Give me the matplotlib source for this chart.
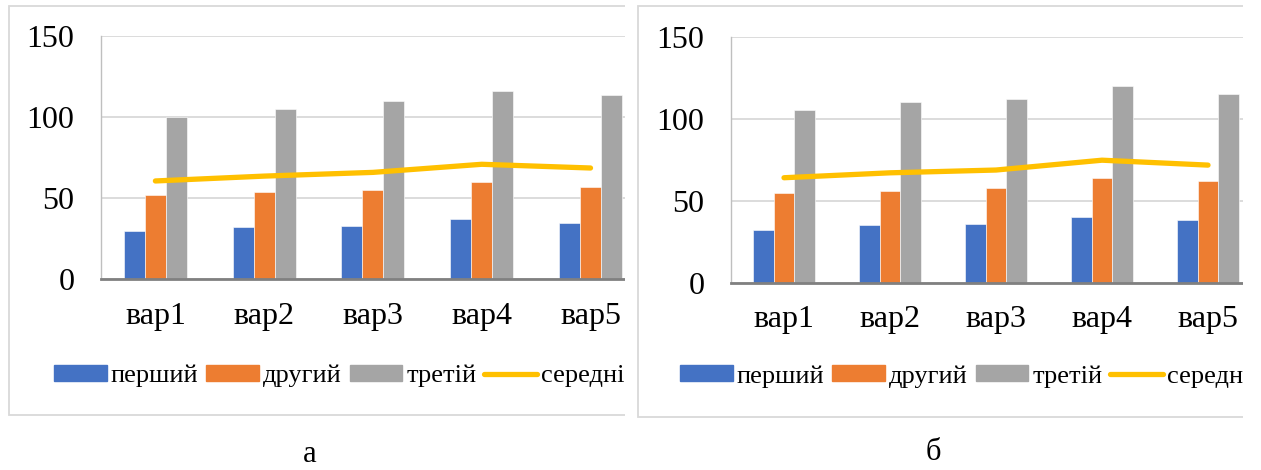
import matplotlib
matplotlib.use("Agg")
from matplotlib import pyplot as plt
from matplotlib.patches import Rectangle
from matplotlib.lines import Line2D
import numpy as np

plt.rcParams['font.family'] = ['Liberation Serif', 'DejaVu Serif']

categories = ['вар1', 'вар2', 'вар3', 'вар4', 'вар5']
series_names = ['перший', 'другий', 'третій', 'середній']
yticks = [0, 50, 100, 150]
panel_labels = ['а', 'б']

# panel а
first_a = [30, 32, 33, 37, 35]
second_a = [52, 54, 55, 60, 57]
third_a = [100, 105, 110, 116, 114]
mean_a = [60.7, 63.7, 66.0, 71.0, 68.7]

# panel б
first_b = [32, 35, 36, 40, 38]
second_b = [55, 56, 58, 64, 62]
third_b = [105, 110, 112, 120, 115]
mean_b = [64.0, 67.0, 68.7, 74.7, 71.7]

colors = ['#4472C4', '#ED7D31', '#A5A5A5', '#FFC000']

W, H = 1261, 470
fig = plt.figure(figsize=(W / 100, H / 100), dpi=100)


def fx(x):
    return x / W


def fy(y):
    return 1 - y / H


def box(x0, y0, x1, y1):
    # pixel coords (y downward) -> figure rect
    return [fx(x0), fy(y1), (x1 - x0) / W, (y1 - y0) / H]


def frame(x0, y0, x1, y1, z):
    r = Rectangle((fx(x0), fy(y1)), (x1 - x0) / W, (y1 - y0) / H,
                  transform=fig.transFigure, facecolor='white',
                  edgecolor='#d9d9d9', lw=1.3, zorder=z)
    fig.add_artist(r)


def cover(x0, z):
    r = Rectangle((fx(x0), 0), 1, 1, transform=fig.transFigure,
                  facecolor='white', edgecolor='none', zorder=z)
    fig.add_artist(r)


def draw_panel(ax, first, second, third, mean, xmax, leg_x, leg_y):
    x = np.arange(len(categories))
    w = 0.193
    ax.bar(x - w, first, w, color=colors[0], edgecolor='white', lw=0.4, zorder=2)
    ax.bar(x, second, w, color=colors[1], edgecolor='white', lw=0.4, zorder=2)
    ax.bar(x + w, third, w, color=colors[2], edgecolor='white', lw=0.4, zorder=2)
    ax.plot(x, mean, color=colors[3], lw=3.8, solid_capstyle='round', zorder=3)
    ax.set_xlim(-0.5, xmax)
    ax.set_ylim(0, 150)
    ax.set_yticks(yticks)
    ax.set_xticks(x)
    ax.set_xticklabels(categories)
    ax.yaxis.grid(True, color='#d9d9d9', lw=1.3)
    ax.set_axisbelow(True)
    for s in ['top', 'right']:
        ax.spines[s].set_visible(False)
    ax.spines['left'].set_color('#bfbfbf')
    ax.spines['left'].set_linewidth(1.0)
    ax.spines['bottom'].set_color('#808080')
    ax.spines['bottom'].set_linewidth(2.0)
    ax.tick_params(axis='y', length=0, labelsize=23, pad=19)
    ax.tick_params(axis='x', length=0, labelsize=23, pad=16)
    handles = [Rectangle((0, 0), 1, 1, color=c) for c in colors[:3]]
    handles.append(Line2D([], [], color=colors[3], lw=3.8, solid_capstyle='round'))
    ax.legend(handles, series_names, loc='center left',
              bbox_to_anchor=(fx(leg_x), fy(leg_y)), bbox_transform=fig.transFigure,
              ncol=4, frameon=False, fontsize=19, handlelength=2.0,
              handleheight=0.55, handletextpad=0.15, columnspacing=0.3,
              borderpad=0, borderaxespad=0)


# panel а
frame(9, 6, 660, 415, 0)
ax_a = fig.add_axes(box(101, 36.3, 625, 279.3), zorder=1)
draw_panel(ax_a, first_a, second_a, third_a, mean_a, 4.317, 54, 376)

# panel б
cover(625, 2)
frame(638, 6, 1300, 417, 2.1)
ax_b = fig.add_axes(box(731, 36.7, 1243, 282.7), zorder=3)
draw_panel(ax_b, first_b, second_b, third_b, mean_b, 4.33, 680, 376.5)
cover(1243, 4)

fig.text(fx(310), fy(455), panel_labels[0], fontsize=22, ha='center', va='center', zorder=5)
fig.text(fx(933), fy(453), panel_labels[1], fontsize=22, ha='center', va='center', zorder=5)

plt.savefig("out.png", dpi=100)
